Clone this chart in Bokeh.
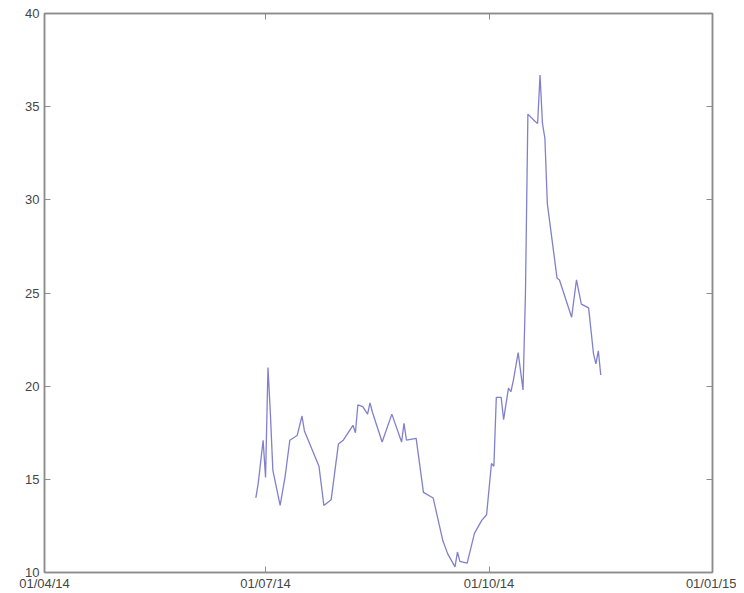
from datetime import datetime
from bokeh.plotting import figure
from bokeh.models import (Range1d, FixedTicker, DatetimeTickFormatter, LinearAxis,
                          CustomJSTickFormatter)
from bokeh.embed import file_html
from bokeh.resources import INLINE

# Data
dates = ["2014-06-27", "2014-06-28", "2014-06-30", "2014-07-01", "2014-07-02",
         "2014-07-03", "2014-07-04", "2014-07-07", "2014-07-09", "2014-07-11",
         "2014-07-14", "2014-07-16", "2014-07-17", "2014-07-23", "2014-07-25",
         "2014-07-28", "2014-07-31", "2014-08-02", "2014-08-06", "2014-08-07",
         "2014-08-08", "2014-08-10", "2014-08-12", "2014-08-13", "2014-08-14",
         "2014-08-18", "2014-08-22", "2014-08-26", "2014-08-27", "2014-08-28",
         "2014-09-01", "2014-09-04", "2014-09-08", "2014-09-12", "2014-09-14",
         "2014-09-17", "2014-09-18", "2014-09-19", "2014-09-22", "2014-09-25",
         "2014-09-28", "2014-09-30", "2014-10-02", "2014-10-03", "2014-10-04",
         "2014-10-06", "2014-10-07", "2014-10-09", "2014-10-10", "2014-10-11",
         "2014-10-13", "2014-10-15", "2014-10-16", "2014-10-17", "2014-10-20",
         "2014-10-21", "2014-10-22", "2014-10-23", "2014-10-24", "2014-10-25",
         "2014-10-29", "2014-10-30", "2014-11-04", "2014-11-06", "2014-11-08",
         "2014-11-11", "2014-11-13", "2014-11-14", "2014-11-15", "2014-11-16"]
values = [14.0, 14.8, 17.1, 15.1, 21.0,
          18.5, 15.5, 13.6, 15.1, 17.1,
          17.35, 18.4, 17.6, 15.7, 13.6,
          13.9, 16.9, 17.1, 17.9, 17.5,
          19.0, 18.9, 18.5, 19.1, 18.6,
          17.0, 18.5, 17.0, 18.0, 17.1,
          17.2, 14.3, 14.0, 11.7, 11.0,
          10.3, 11.1, 10.6, 10.5, 12.1,
          12.8, 13.1, 15.85, 15.7, 19.4,
          19.4, 18.2, 19.9, 19.7, 20.3,
          21.8, 19.8, 25.0, 34.6, 34.2,
          34.1, 36.7, 34.1, 33.3, 29.8,
          25.8, 25.7, 23.7, 25.7, 24.4,
          24.2, 21.75, 21.2, 21.9, 20.6]

x_tick_dates = ["2014-04-01", "2014-07-01", "2014-10-01", "2015-01-01"]
y_ticks = [10, 15, 20, 25, 30, 35, 40]

x = [datetime.strptime(d, "%Y-%m-%d") for d in dates]
xt = [datetime.strptime(d, "%Y-%m-%d") for d in x_tick_dates]
xt_ms = [(d - datetime(1970, 1, 1)).total_seconds() * 1000 for d in xt]

p = figure(width=736, height=593, x_axis_type="datetime",
           output_backend="svg", toolbar_location=None,
           min_border_left=44, min_border_right=24, min_border_top=13,
           min_border_bottom=21)
p.x_range = Range1d(xt[0], xt[-1])
p.y_range = Range1d(y_ticks[0], y_ticks[-1])

p.line(x, values, line_color="#6a6ac4", line_width=1.3, line_alpha=0.85)

p.grid.visible = False
p.outline_line_color = "#8c8c8c"
p.outline_line_width = 1.5
p.background_fill_color = "white"
p.border_fill_color = "white"

fmt = "%d/%m/%y"
dtf = DatetimeTickFormatter(milliseconds=fmt, seconds=fmt, minsec=fmt, minutes=fmt,
                            hourmin=fmt, hours=fmt, days=fmt, months=fmt, years=fmt)

def style(ax):
    ax.axis_line_color = "#8c8c8c"
    ax.axis_line_width = 1.5
    ax.major_tick_in = 6
    ax.major_tick_out = 0
    ax.minor_tick_line_color = None
    ax.major_tick_line_color = "#8c8c8c"
    ax.major_label_text_font = "Liberation Sans"
    ax.major_label_text_font_size = "13px"
    ax.major_label_text_color = "#454545"

xax = p.xaxis[0]
xax.ticker = FixedTicker(ticks=xt_ms)
xax.formatter = dtf
style(xax)
xax.major_label_standoff = 3

yax = p.yaxis[0]
yax.ticker = FixedTicker(ticks=y_ticks)
style(yax)
yax.major_label_standoff = 5

blank = CustomJSTickFormatter(code="return ''")

top = LinearAxis(ticker=FixedTicker(ticks=xt_ms), formatter=blank)
style(top)
top.major_label_text_font_size = "6px"
top.major_label_standoff = 0
p.add_layout(top, "above")

right = LinearAxis(ticker=FixedTicker(ticks=y_ticks), formatter=blank)
style(right)
right.major_label_text_font_size = "6px"
right.major_label_standoff = 0
p.add_layout(right, "right")

open("out.html", "w").write(file_html(p, INLINE))
